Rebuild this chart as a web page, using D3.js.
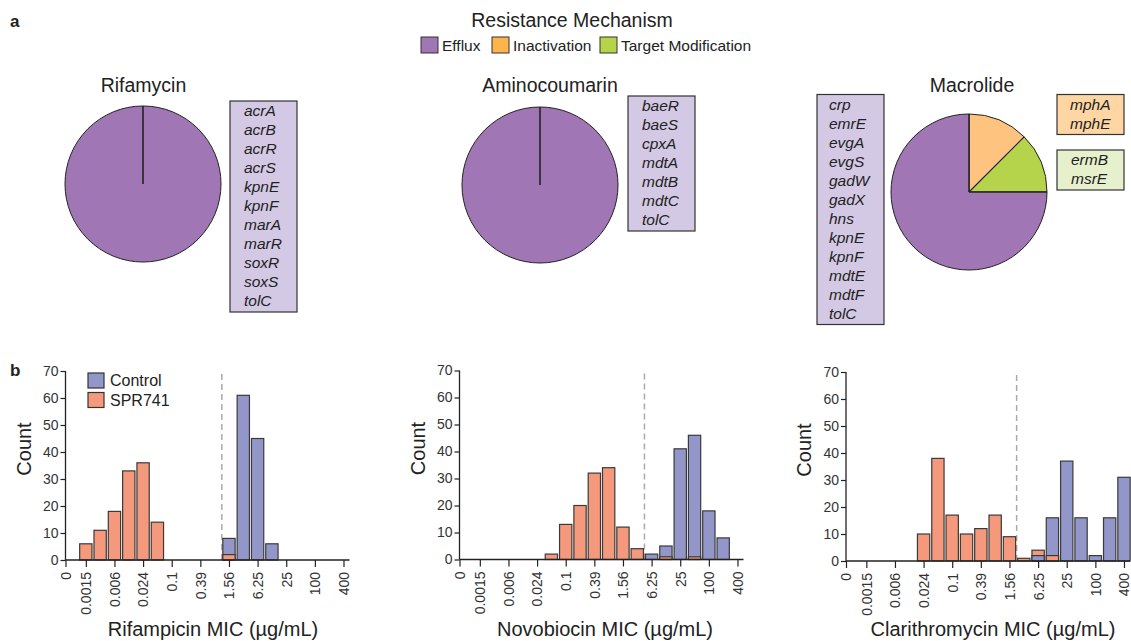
<!DOCTYPE html>
<html>
<head>
<meta charset="utf-8">
<script src="https://cdn.jsdelivr.net/npm/d3@7"></script>
<style>
  html, body { margin: 0; padding: 0; background: #fff; }
  svg { display: block; font-family: "Liberation Sans", Arial, Helvetica, sans-serif; }
</style>
</head>
<body>
<svg id="chart" width="1131" height="641"></svg>
<script>
// ---------------- DATA ----------------
const mechanisms = ["Efflux", "Inactivation", "Target Modification"];

const rifamycinEfflux = ["acrA","acrB","acrR","acrS","kpnE","kpnF","marA","marR","soxR","soxS","tolC"];
const aminocoumarinEfflux = ["baeR","baeS","cpxA","mdtA","mdtB","mdtC","tolC"];
const macrolideEfflux = ["crp","emrE","evgA","evgS","gadW","gadX","hns","kpnE","kpnF","mdtE","mdtF","tolC"];
const macrolideInactivation = ["mphA","mphE"];
const macrolideTarget = ["ermB","msrE"];

const micBins = ["0.0015","0.003","0.006","0.012","0.024","0.048","0.1","0.195","0.39","0.78","1.56","3.125","6.25","12.5","25","50","100","200","400"];
const micTicks = ["0","0.0015","0.006","0.024","0.1","0.39","1.56","6.25","25","100","400"];
const countTicks = [0,10,20,30,40,50,60,70];
const seriesNames = ["Control","SPR741"];

//                  0.0015 .003 .006 .012 .024 .048 .1 .195 .39 .78 1.56 3.125 6.25 12.5 25 50 100 200 400
const rifControl   = [0,    0,   0,   0,   0,   0,   0, 0,   0,  0,  8,   61,   45,  6,   0, 0, 0,  0,  0];
const rifSPR741    = [6,    11,  18,  33,  36,  14,  0, 0,   0,  0,  2,   0,    0,   0,   0, 0, 0,  0,  0];
const novoControl  = [0,    0,   0,   0,   0,   0,   0, 0,   0,  0,  0,   0,    2,   5,   41,46,18, 8,  0];
const novoSPR741   = [0,    0,   0,   0,   0,   2,   13,20,  32, 34, 12,  4,    0,   1,   0, 1, 0,  0,  0];
const clariControl = [0,    0,   0,   0,   0,   0,   0, 0,   0,  0,  0,   0,    2,   16,  37,16,2,  16, 31];
const clariSPR741  = [0,    0,   0,   0,   10,  38,  17,10,  12, 17, 9,   1,    4,   2,   0, 0, 0,  0,  0];

// ---------------- STYLE ----------------
const legendColors = ["#a077b4", "#fdb44b", "#b5d44a"];
const pieColors    = ["#a076b4", "#fec47f", "#b5d44b"];
const boxColors    = ["#d4c9e4", "#fdd6a4", "#e7f0cd"];
const seriesColors = ["#9396c9", "#f4997b"];
const ink = "#222";

const svg = d3.select("#chart");

// panel letters
svg.append("text").attr("x", 10).attr("y", 27).attr("font-size", 17).attr("font-weight", "bold").attr("fill", ink).text("a");
svg.append("text").attr("x", 10).attr("y", 376).attr("font-size", 17).attr("font-weight", "bold").attr("fill", ink).text("b");

// ---------------- TOP LEGEND ----------------
svg.append("text").attr("x", 572).attr("y", 27).attr("text-anchor", "middle")
  .attr("font-size", 19.5).attr("fill", ink).text("Resistance Mechanism");
const legX = [421, 492, 600];
const leg = svg.append("g");
mechanisms.forEach((m, i) => {
  leg.append("rect").attr("x", legX[i]).attr("y", 37).attr("width", 17).attr("height", 16)
    .attr("fill", legendColors[i]).attr("stroke", "#333").attr("stroke-width", 1);
  leg.append("text").attr("x", legX[i] + 21).attr("y", 51).attr("font-size", 15.5).attr("fill", ink).text(m);
});

// ---------------- PIES ----------------
const pies = [
  { title: "Rifamycin", tx: 143.5, cx: 143, cy: 184,
    groups: [rifamycinEfflux, [], []],
    boxes: [{ mech: 0, x: 230, y: 101, w: 67, tx: 244 }] },
  { title: "Aminocoumarin", tx: 550, cx: 540, cy: 185,
    groups: [aminocoumarinEfflux, [], []],
    boxes: [{ mech: 0, x: 628, y: 96, w: 67, tx: 642 }] },
  { title: "Macrolide", tx: 972, cx: 969, cy: 192,
    groups: [macrolideEfflux, macrolideInactivation, macrolideTarget],
    boxes: [{ mech: 0, x: 817, y: 94.5, w: 67, tx: 829 },
            { mech: 1, x: 1057, y: 94.5, w: 67, tx: 1070 },
            { mech: 2, x: 1057, y: 150, w: 67, tx: 1071 }] }
];
const R = 78;
const lineH = 19;
const order = [1, 2, 0]; // clockwise from 12 o'clock: Inactivation, Target, Efflux

pies.forEach(p => {
  svg.append("text").attr("x", p.tx).attr("y", 92).attr("text-anchor", "middle")
    .attr("font-size", 19.5).attr("fill", ink).text(p.title);

  const data = order.map(k => ({ k, v: p.groups[k].length })).filter(d => d.v > 0);
  const arcs = d3.pie().sort(null).value(d => d.v)(data);
  const g = svg.append("g").attr("transform", `translate(${p.cx},${p.cy})`);
  const arc = d3.arc().innerRadius(0).outerRadius(R);
  g.selectAll("path.slice").data(arcs).enter().append("path")
    .attr("d", arc).attr("fill", d => pieColors[d.data.k])
    .attr("stroke", ink).attr("stroke-width", 1);
  // slice boundaries (also visible on single-slice pies)
  g.selectAll("line.edge").data(arcs).enter().append("line")
    .attr("x1", 0).attr("y1", 0)
    .attr("x2", d => R * Math.sin(d.startAngle)).attr("y2", d => -R * Math.cos(d.startAngle))
    .attr("stroke", ink).attr("stroke-width", data.length === 1 ? 1.6 : 1.1);

  p.boxes.forEach(b => {
    const genes = p.groups[b.mech];
    svg.append("rect").attr("x", b.x).attr("y", b.y).attr("width", b.w)
      .attr("height", genes.length * lineH + 2)
      .attr("fill", boxColors[b.mech]).attr("stroke", "#333").attr("stroke-width", 1.2);
    genes.forEach((gname, i) => {
      svg.append("text").attr("x", b.tx).attr("y", b.y + 9.5 + i * lineH + 5.5)
        .attr("font-size", 15.5).attr("font-style", "italic").attr("fill", ink).text(gname);
    });
  });
});

// ---------------- HISTOGRAMS ----------------
const panels = [
  { left: 65.5, y0: 560, label: "Rifampicin MIC (µg/mL)", lx: 213, cut: 9.5, series: [rifControl, rifSPR741], legend: true },
  { left: 459.5, y0: 559.5, label: "Novobiocin MIC (µg/mL)", lx: 605, cut: 11.5, series: [novoControl, novoSPR741], legend: false },
  { left: 846, y0: 561, label: "Clarithromycin MIC (µg/mL)", lx: 993, cut: 10.5, series: [clariControl, clariSPR741], legend: false }
];
const zeroIdx = -1.42;
const tickIndex = micTicks.map(t => t === "0" ? zeroIdx : micBins.indexOf(t));

panels.forEach(p => {
  const x = d3.scaleLinear().domain([zeroIdx, 18.42]).range([p.left, p.left + 284]);
  const y = d3.scaleLinear().domain([0, 70]).range([p.y0, p.y0 - 189]);
  const step = x(1) - x(0);
  const bw = step * 0.86;
  const g = svg.append("g");

  // dashed threshold line
  g.append("line").attr("x1", x(p.cut)).attr("x2", x(p.cut))
    .attr("y1", y(0)).attr("y2", y(70))
    .attr("stroke", "#aaa").attr("stroke-width", 1.5).attr("stroke-dasharray", "6,4");

  // bars: for each bin draw larger first so the smaller shows in front
  const bars = [];
  micBins.forEach((b, i) => {
    const vals = p.series.map((s, si) => ({ i, si, v: s[i] })).filter(d => d.v > 0);
    vals.sort((a, b2) => b2.v - a.v);
    vals.forEach(d => bars.push(d));
  });
  g.selectAll("rect.bar").data(bars).enter().append("rect")
    .attr("x", d => x(d.i) - bw / 2).attr("width", bw)
    .attr("y", d => y(d.v)).attr("height", d => y(0) - y(d.v))
    .attr("fill", d => seriesColors[d.si])
    .attr("stroke", "#3a3a3a").attr("stroke-width", 1.2);

  // axes
  const yAxis = g.append("g").attr("transform", `translate(${p.left},0)`)
    .call(d3.axisLeft(y).tickValues(countTicks).tickSize(5).tickPadding(2));
  const xAxis = g.append("g").attr("transform", `translate(0,${p.y0})`)
    .call(d3.axisBottom(x).tickValues(tickIndex).tickSize(7).tickFormat((d, i) => micTicks[i]));
  [xAxis, yAxis].forEach(a => {
    a.select(".domain").attr("stroke", ink).attr("stroke-width", 1.3);
    a.selectAll(".tick line").attr("stroke", ink).attr("stroke-width", 1.2);
    a.selectAll(".tick text").attr("fill", "#333").attr("font-size", 14)
      .attr("font-family", "Liberation Sans, Arial, sans-serif");
  });
  xAxis.select(".domain").attr("d", `M${p.left},0H${p.left + 284}`);
  yAxis.select(".domain").attr("d", `M0,${y(0)}V${y(70)}`);
  xAxis.selectAll(".tick text")
    .attr("transform", "rotate(-90)")
    .attr("text-anchor", "end").attr("x", -12).attr("y", 0).attr("dy", "0.35em");

  // axis titles
  g.append("text").attr("x", p.lx).attr("y", 636).attr("text-anchor", "middle")
    .attr("font-size", 20).attr("fill", ink).text(p.label);
  g.append("text").attr("transform", `translate(${p.left - 35},${p.y0 - 111}) rotate(-90)`)
    .attr("text-anchor", "middle").attr("font-size", 20).attr("fill", ink).text("Count");

  if (p.legend) {
    seriesNames.forEach((n, i) => {
      g.append("rect").attr("x", 88).attr("y", 373 + i * 19.5).attr("width", 16).attr("height", 15)
        .attr("fill", seriesColors[i]).attr("stroke", "#333").attr("stroke-width", 1.2);
      g.append("text").attr("x", 110).attr("y", 386 + i * 19.5).attr("font-size", 16).attr("fill", ink).text(n);
    });
  }
});
</script>
</body>
</html>
